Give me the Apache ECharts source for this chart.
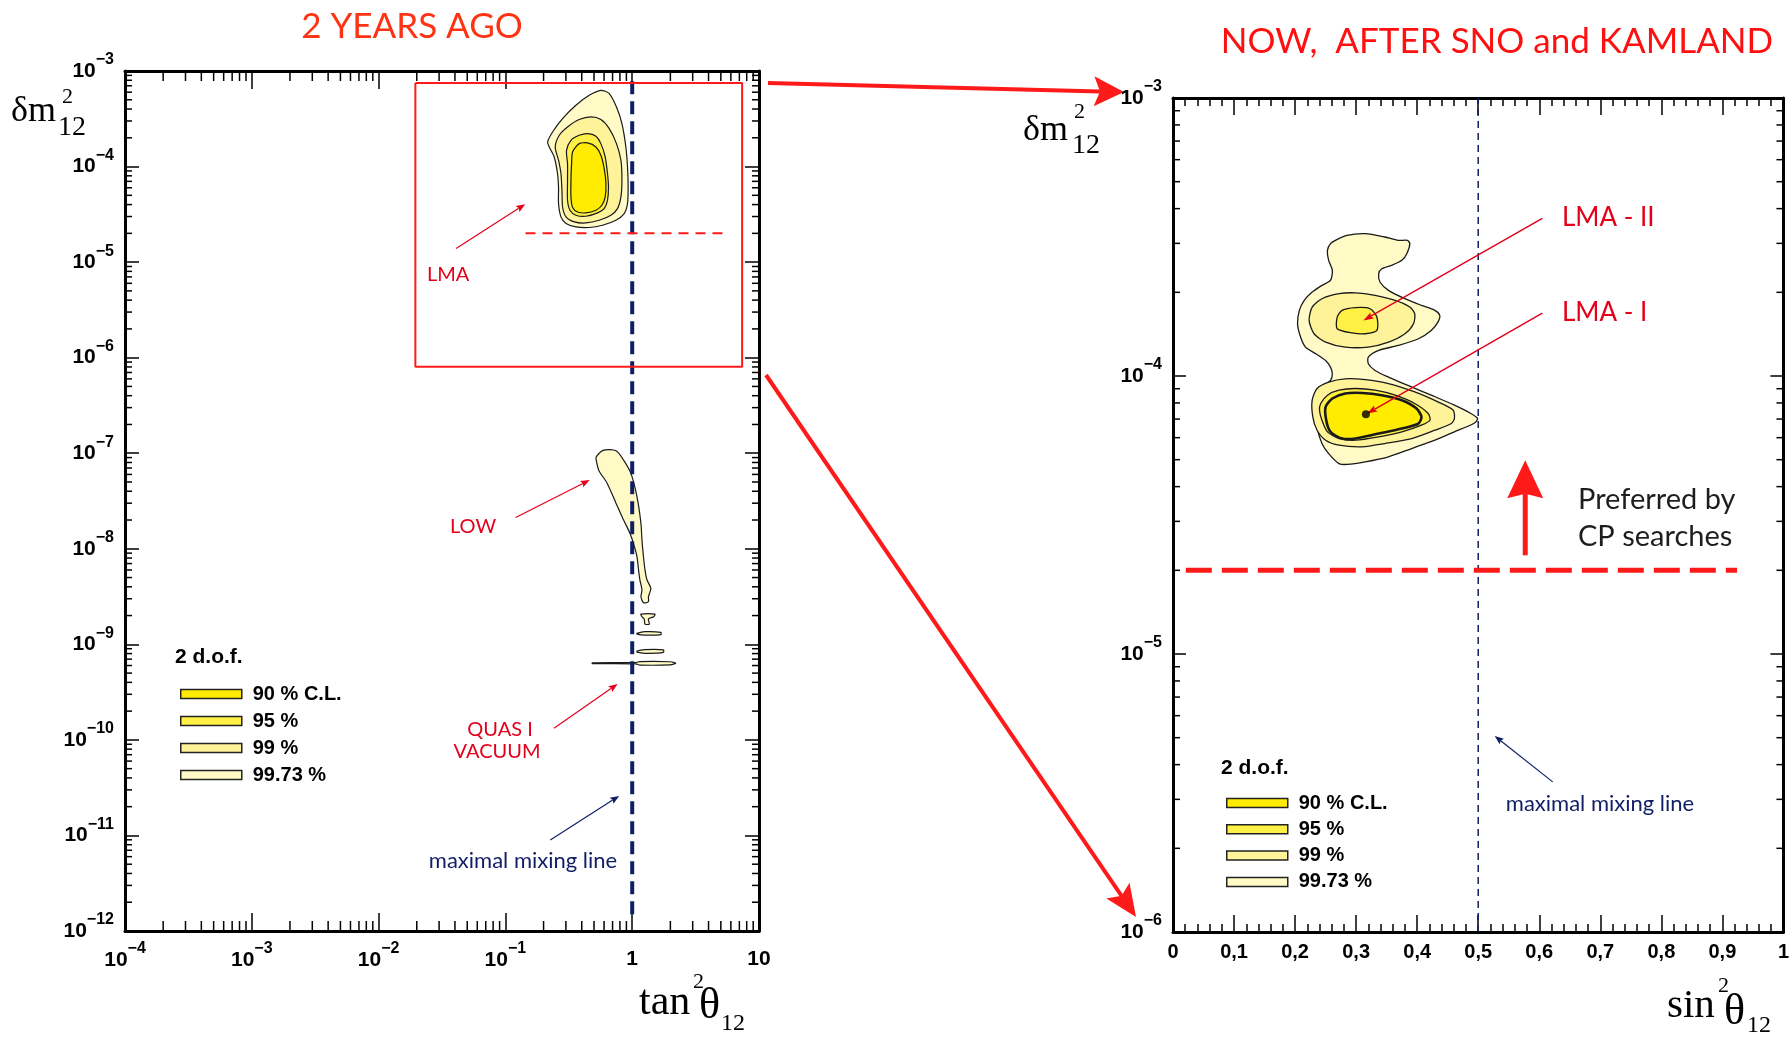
<!DOCTYPE html>
<html>
<head>
<meta charset="utf-8">
<script src="https://cdn.jsdelivr.net/npm/echarts@6/dist/echarts.min.js"></script>
<style>
  html, body { margin: 0; padding: 0; background: #fff; }
  #chart { width: 1792px; height: 1037px; }
</style>
</head>
<body>
<div id="chart"></div>
<script>
// ---------------------------------------------------------------------------
// Solar-neutrino allowed regions, before and after SNO + KamLAND.
// Left panel points: [log10(tan^2 theta12), log10(dm^2_12)]
// Right panel points: [sin^2 theta12, log10(dm^2_12)]
// ---------------------------------------------------------------------------

const levelNames = ['90 % C.L.', '95 %', '99 %', '99.73 %'];

// --- two years ago: LMA island
const lmaOld9973 = [[-0.247,-3.202],[-0.181,-3.236],[-0.124,-3.377],[-0.081,-3.550],[-0.050,-3.795],[-0.037,-4.004],[-0.032,-4.213],[-0.037,-4.387],[-0.063,-4.492],[-0.129,-4.562],[-0.234,-4.614],[-0.339,-4.638],[-0.444,-4.632],[-0.522,-4.596],[-0.562,-4.527],[-0.581,-4.387],[-0.581,-4.213],[-0.589,-4.073],[-0.615,-3.900],[-0.654,-3.795],[-0.667,-3.743],[-0.628,-3.638],[-0.549,-3.498],[-0.444,-3.359],[-0.339,-3.254]];
const lmaOld99 = [[-0.325,-3.481],[-0.247,-3.508],[-0.181,-3.603],[-0.124,-3.760],[-0.089,-3.934],[-0.081,-4.143],[-0.089,-4.318],[-0.116,-4.440],[-0.168,-4.509],[-0.260,-4.562],[-0.365,-4.590],[-0.457,-4.579],[-0.522,-4.527],[-0.549,-4.423],[-0.554,-4.248],[-0.562,-4.073],[-0.581,-3.934],[-0.607,-3.795],[-0.575,-3.673],[-0.510,-3.586],[-0.418,-3.508]];
const lmaOld95 = [[-0.418,-3.673],[-0.352,-3.655],[-0.286,-3.683],[-0.247,-3.760],[-0.213,-3.900],[-0.195,-4.073],[-0.187,-4.213],[-0.195,-4.353],[-0.221,-4.440],[-0.273,-4.485],[-0.365,-4.520],[-0.444,-4.509],[-0.491,-4.457],[-0.510,-4.353],[-0.510,-4.143],[-0.510,-3.969],[-0.518,-3.830],[-0.483,-3.725]];
const lmaOld90 = [[-0.418,-3.760],[-0.352,-3.753],[-0.286,-3.795],[-0.247,-3.882],[-0.221,-4.021],[-0.207,-4.178],[-0.213,-4.318],[-0.239,-4.405],[-0.286,-4.457],[-0.365,-4.485],[-0.431,-4.475],[-0.470,-4.429],[-0.483,-4.318],[-0.483,-4.143],[-0.478,-3.969],[-0.470,-3.847]];

// --- two years ago: LOW tongue and quasi-vacuum slivers (99.73 % only)
const lowOld9973 = [[-0.284,-7.038],[-0.225,-6.968],[-0.127,-6.975],[-0.068,-7.072],[-0.010,-7.211],[0.038,-7.456],[0.069,-7.734],[0.077,-7.909],[0.089,-8.084],[0.101,-8.223],[0.117,-8.327],[0.147,-8.414],[0.128,-8.502],[0.128,-8.554],[0.089,-8.565],[0.069,-8.502],[0.077,-8.432],[0.061,-8.327],[0.050,-8.223],[0.038,-8.084],[0.010,-7.944],[-0.017,-7.839],[-0.068,-7.700],[-0.127,-7.525],[-0.197,-7.316],[-0.264,-7.177],[-0.284,-7.072]];
const qvIsland1 = [[0.069,-8.683],[0.179,-8.683],[0.170,-8.711],[0.128,-8.735],[0.135,-8.788],[0.101,-8.788],[0.095,-8.735],[0.077,-8.711]];
const qvIsland2 = [[0.038,-8.885],[0.100,-8.868],[0.226,-8.875],[0.226,-8.898],[0.100,-8.903],[0.038,-8.893]];
const qvIsland3 = [[0.038,-9.070],[0.100,-9.055],[0.246,-9.058],[0.246,-9.085],[0.100,-9.094],[0.038,-9.082]];
const qvStrip = [[-0.315,-9.193],[0.030,-9.190],[0.060,-9.180],[0.300,-9.182],[0.344,-9.197],[0.300,-9.214],[0.060,-9.217],[0.030,-9.205],[-0.315,-9.201]];

// --- now: LMA-I / LMA-II
const now9973 = [[0.266,-3.512],[0.285,-3.494],[0.315,-3.488],[0.347,-3.500],[0.369,-3.512],[0.384,-3.512],[0.388,-3.524],[0.383,-3.560],[0.375,-3.584],[0.358,-3.602],[0.342,-3.614],[0.337,-3.632],[0.339,-3.662],[0.353,-3.692],[0.380,-3.722],[0.407,-3.746],[0.429,-3.764],[0.437,-3.782],[0.434,-3.806],[0.423,-3.836],[0.402,-3.866],[0.369,-3.890],[0.337,-3.908],[0.320,-3.932],[0.320,-3.956],[0.331,-3.980],[0.353,-4.004],[0.385,-4.034],[0.423,-4.069],[0.461,-4.105],[0.488,-4.135],[0.499,-4.153],[0.494,-4.169],[0.461,-4.201],[0.429,-4.231],[0.391,-4.261],[0.353,-4.291],[0.315,-4.309],[0.285,-4.318],[0.272,-4.315],[0.255,-4.279],[0.244,-4.243],[0.236,-4.183],[0.234,-4.123],[0.236,-4.075],[0.244,-4.040],[0.258,-4.016],[0.261,-3.992],[0.258,-3.968],[0.250,-3.944],[0.234,-3.920],[0.217,-3.896],[0.209,-3.860],[0.204,-3.812],[0.207,-3.764],[0.215,-3.728],[0.228,-3.698],[0.244,-3.674],[0.258,-3.656],[0.261,-3.620],[0.255,-3.584],[0.253,-3.548],[0.258,-3.524]];
const now99Upper = [[0.223,-3.800],[0.228,-3.752],[0.244,-3.722],[0.272,-3.704],[0.299,-3.701],[0.331,-3.710],[0.364,-3.728],[0.388,-3.752],[0.396,-3.776],[0.394,-3.812],[0.380,-3.848],[0.353,-3.878],[0.320,-3.896],[0.282,-3.896],[0.250,-3.878],[0.231,-3.848]];
const now99Lower = [[0.228,-4.087],[0.236,-4.045],[0.255,-4.022],[0.282,-4.010],[0.315,-4.013],[0.353,-4.027],[0.396,-4.057],[0.434,-4.093],[0.459,-4.123],[0.461,-4.153],[0.456,-4.171],[0.429,-4.195],[0.391,-4.225],[0.347,-4.243],[0.310,-4.255],[0.272,-4.249],[0.250,-4.231],[0.236,-4.195],[0.229,-4.147]];
const now95Upper = [[0.269,-3.788],[0.277,-3.764],[0.299,-3.754],[0.323,-3.758],[0.334,-3.788],[0.334,-3.836],[0.315,-3.848],[0.293,-3.845],[0.269,-3.830]];
const now95Lower = [[0.242,-4.099],[0.253,-4.069],[0.272,-4.051],[0.299,-4.045],[0.331,-4.051],[0.364,-4.069],[0.396,-4.099],[0.418,-4.135],[0.421,-4.159],[0.407,-4.177],[0.375,-4.201],[0.337,-4.219],[0.299,-4.231],[0.272,-4.225],[0.253,-4.201],[0.244,-4.159],[0.240,-4.123]];
const now90Lower = [[0.250,-4.111],[0.261,-4.081],[0.282,-4.063],[0.310,-4.061],[0.342,-4.069],[0.375,-4.087],[0.399,-4.117],[0.407,-4.147],[0.402,-4.171],[0.375,-4.189],[0.337,-4.207],[0.299,-4.225],[0.277,-4.225],[0.258,-4.201],[0.251,-4.159]];
const nowBestFit = [0.316, -4.138];

// --- reference lines and pointers
const cpThreshold = 2e-5;                 // dm^2 preferred for CP searches
const oldThresholdSpan = [0.144, 5.8];    // tan^2 range of the dashed line
const nowThresholdSpan = [0.021, 0.924];  // sin^2 range of the dashed line
const zoomBoxCorners = [[-1.71, -3.126], [0.867, -6.096]];
const pointerLMA = [[-1.389,-4.858],[-0.844,-4.394]];
const pointerLOW = [[-0.919,-7.672],[-0.335,-7.281]];
const pointerQV = [[-0.617,-9.879],[-0.115,-9.415]];
const pointerMixOld = [[-0.646,-11.047],[-0.103,-10.587]];
const pointerLMA2 = [[0.605,-3.433],[0.312,-3.800]];
const pointerLMA1 = [[0.605,-3.774],[0.318,-4.135]];
const pointerMixNow = [[0.622,-5.460],[0.527,-5.295]];
const cpArrow = [[0.577,-4.645],[0.577,-4.303]];

// ---------------------------------------------------------------------------
const p10 = e => Math.pow(10, e);
const toOld = pts => pts.map(p => [p10(p[0]), p10(p[1])]);
const toNow = pts => pts.map(p => [p[0], p10(p[1])]);

const C90 = '#ffec00', C95 = '#fff046', C99 = '#fff39a', C9973 = '#fffac6';
const RED = '#ff1a1a', CRIMSON = '#e4001b', NAVY = '#101e66';
const FONT_TICK = '"Liberation Sans", Arial, sans-serif';
const FONT_NOTE = 'Lato, "Open Sans", sans-serif';
const FONT_MATH = '"Liberation Serif", "DejaVu Serif", serif';

// filled contour polygons, one custom series per confidence level
function contourSeries(name, polys, gi, fill, lineWidth) {
  return {
    type: 'custom', name, xAxisIndex: gi, yAxisIndex: gi, silent: true,
    itemStyle: { color: fill, borderColor: '#1a1a1a', borderWidth: 1.2 },
    data: polys.map((p, i) => [p[0][0], p[0][1], i]),
    encode: { x: 0, y: 1 },
    renderItem(params, api) {
      const pts = polys[params.dataIndex].map(pt => api.coord(pt));
      return { type: 'polygon', shape: { points: pts, smooth: 0.25 },
               style: { fill, stroke: '#1a1a1a', lineWidth } };
    }
  };
}

// straight arrow with a notched head, in pixel space
function arrowShapes(a, b, headLen, headHalf, notch, width, color) {
  const dx = b[0] - a[0], dy = b[1] - a[1];
  const L = Math.hypot(dx, dy) || 1;
  const ux = dx / L, uy = dy / L, nx = -uy, ny = ux;
  const bx = b[0] - ux * headLen, by = b[1] - uy * headLen;
  const kx = b[0] - ux * headLen * (1 - notch), ky = b[1] - uy * headLen * (1 - notch);
  return [
    { type: 'line', shape: { x1: a[0], y1: a[1], x2: kx, y2: ky },
      style: { stroke: color, lineWidth: width } },
    { type: 'polygon',
      shape: { points: [[b[0], b[1]], [bx + nx * headHalf, by + ny * headHalf], [kx, ky], [bx - nx * headHalf, by - ny * headHalf]] },
      style: { fill: color } }
  ];
}

function pointerSeries(gi, segs, color, width, headLen, headHalf, notch) {
  return {
    type: 'custom', xAxisIndex: gi, yAxisIndex: gi, silent: true, z: 8,
    data: segs.map(s => [s[0][0], s[0][1], s[1][0], s[1][1]]),
    encode: { x: [0, 2], y: [1, 3] },
    renderItem(params, api) {
      const a = api.coord([api.value(0), api.value(1)]);
      const b = api.coord([api.value(2), api.value(3)]);
      return { type: 'group', children: arrowShapes(a, b, headLen, headHalf, notch, width, color) };
    }
  };
}

// minor ticks (2..9 per decade) on the log axes, drawn on both facing sides
const decadeMultipliers = [2, 3, 4, 5, 6, 7, 8, 9];
function minorLogTicks(e0, e1) {
  const out = [];
  for (let e = e0; e < e1; e++) for (const m of decadeMultipliers) out.push(m * Math.pow(10, e));
  return out;
}
function minorTickSeries(gi, axis, values, other, len) {
  return {
    type: 'custom', xAxisIndex: gi, yAxisIndex: gi, silent: true, z: 5,
    data: values.map(v => axis === 'x' ? [v, other[0]] : [other[0], v]),
    encode: { x: 0, y: 1 },
    renderItem(params, api) {
      const st = { stroke: '#000', lineWidth: 1.5 };
      if (axis === 'x') {
        const v = api.value(0);
        const a = api.coord([v, other[0]]), b = api.coord([v, other[1]]);
        return { type: 'group', children: [
          { type: 'line', shape: { x1: a[0], y1: a[1], x2: a[0], y2: a[1] - len }, style: st },
          { type: 'line', shape: { x1: b[0], y1: b[1], x2: b[0], y2: b[1] + len }, style: st } ] };
      }
      const v = api.value(1);
      const a = api.coord([other[0], v]), b = api.coord([other[1], v]);
      return { type: 'group', children: [
        { type: 'line', shape: { x1: a[0], y1: a[1], x2: a[0] + len, y2: a[1] }, style: st },
        { type: 'line', shape: { x1: b[0], y1: b[1], x2: b[0] - len, y2: b[1] }, style: st } ] };
    }
  };
}

// tick labels
const tickRich = {
  n: { fontFamily: FONT_TICK, fontWeight: 'bold', fontSize: 21, color: '#000' },
  s: { fontFamily: FONT_TICK, fontWeight: 'bold', fontSize: 16, color: '#000', padding: [0, 0, 22, 0] },
  p: { fontFamily: FONT_TICK, fontWeight: 'bold', fontSize: 21, color: '#000', padding: [8, 0, 0, 0] }
};
function decadeLabel(v) {
  const e = Math.round(Math.log10(v));
  if (e === 0) return '{p|1}';
  if (e === 1) return '{p|10}';
  return '{n|10}{s|\u2212' + Math.abs(e) + '}';
}
function commaLabel(v) {
  if (Math.abs(v) < 1e-9) return '0';
  if (Math.abs(v - 1) < 1e-9) return '1';
  return v.toFixed(1).replace('.', ',');
}

const frame = { show: true, onZero: false, lineStyle: { color: '#000', width: 3 } };
function logAxis(gi, position, min, max, showLabel, tickLen, margin) {
  return {
    gridIndex: gi, type: 'log', logBase: 10, min, max, position, splitNumber: 10,
    axisLine: frame,
    axisTick: { show: true, inside: true, length: tickLen, lineStyle: { color: '#000', width: 1.5 } },
    axisLabel: { show: showLabel, interval: 0, margin, formatter: decadeLabel, rich: tickRich },
    splitLine: { show: false }, minorTick: { show: false }
  };
}
function linAxis(gi, position, showLabel) {
  return {
    gridIndex: gi, type: 'value', min: 0, max: 1, interval: 0.1, position,
    axisLine: frame,
    axisTick: { show: true, inside: true, length: 17, lineStyle: { color: '#000', width: 1.5 } },
    minorTick: { show: true, splitNumber: 5, length: 8, lineStyle: { color: '#000', width: 1.5 } },
    axisLabel: { show: showLabel, margin: 10, formatter: commaLabel,
                 fontFamily: FONT_TICK, fontWeight: 'bold', fontSize: 20, color: '#000' },
    splitLine: { show: false }
  };
}

function note(text, x, y, size, color, family, align, weight) {
  return { type: 'text', x, y, z: 20, silent: true,
           style: { text, fontSize: size, fontFamily: family, fontWeight: weight || 'normal',
                    fill: color, align: align || 'left', verticalAlign: 'middle' } };
}

const legendBase = {
  data: levelNames, orient: 'vertical', icon: 'rect', itemWidth: 61, itemHeight: 9,
  selectedMode: false, padding: 0,
  itemStyle: { borderColor: '#222', borderWidth: 1.5 },
  textStyle: { fontFamily: FONT_TICK, fontWeight: 'bold', fontSize: 20, lineHeight: 20,
               color: '#000', padding: [0, 0, 0, 6] }
};

const oldBox = toOld([[zoomBoxCorners[0][0], zoomBoxCorners[0][1]], [zoomBoxCorners[1][0], zoomBoxCorners[0][1]],
                      [zoomBoxCorners[1][0], zoomBoxCorners[1][1]], [zoomBoxCorners[0][0], zoomBoxCorners[1][1]],
                      [zoomBoxCorners[0][0], zoomBoxCorners[0][1]]]);

const option = {
  animation: false,
  backgroundColor: '#fff',
  grid: [
    { left: 125, top: 71, width: 634, height: 860 },
    { left: 1173, top: 98, width: 615, height: 834 }
  ],
  xAxis: [
    logAxis(0, 'bottom', 1e-4, 10, true, 18, 10),
    logAxis(0, 'top', 1e-4, 10, false, 18, 10),
    linAxis(1, 'bottom', true),
    linAxis(1, 'top', false)
  ],
  yAxis: [
    logAxis(0, 'left', 1e-12, 1e-3, true, 14, 11),
    logAxis(0, 'right', 1e-12, 1e-3, false, 14, 11),
    logAxis(1, 'left', 1e-6, 1e-3, true, 13, 11),
    logAxis(1, 'right', 1e-6, 1e-3, false, 13, 11)
  ],
  legend: [
    Object.assign({}, legendBase, { left: 180, top: 684, itemGap: 7 }),
    Object.assign({}, legendBase, { left: 1226, top: 793, itemGap: 6.3 })
  ],
  series: [
    // two years ago
    contourSeries('99.73 %', [toOld(lmaOld9973), toOld(lowOld9973), toOld(qvIsland1), toOld(qvIsland2), toOld(qvIsland3), toOld(qvStrip)], 0, C9973, 1.2),
    contourSeries('99 %', [toOld(lmaOld99)], 0, C99, 1.2),
    contourSeries('95 %', [toOld(lmaOld95)], 0, C95, 1.2),
    contourSeries('90 % C.L.', [toOld(lmaOld90)], 0, C90, 1.2),
    // now
    contourSeries('99.73 %', [toNow(now9973)], 2, C9973, 1.3),
    contourSeries('99 %', [toNow(now99Upper), toNow(now99Lower)], 2, C99, 1.3),
    contourSeries('95 %', [toNow(now95Upper), toNow(now95Lower)], 2, C95, 1.3),
    contourSeries('90 % C.L.', [toNow(now90Lower)], 2, C90, 2.6),
    { type: 'scatter', xAxisIndex: 2, yAxisIndex: 2, silent: true, z: 9,
      data: [[nowBestFit[0], p10(nowBestFit[1])]], symbolSize: 8, itemStyle: { color: '#000' } },

    // maximal mixing lines
    { type: 'line', xAxisIndex: 0, yAxisIndex: 0, silent: true, symbol: 'none', z: 6,
      data: [[1, 1.5e-12], [1, 8.8e-4]], lineStyle: { color: NAVY, width: 4, type: [13, 7] } },
    { type: 'line', xAxisIndex: 2, yAxisIndex: 2, silent: true, symbol: 'none', z: 6,
      data: [[0.5, 1e-6], [0.5, 1e-3]], lineStyle: { color: NAVY, width: 1.5, type: [7, 5] } },
    // CP-search threshold
    { type: 'line', xAxisIndex: 0, yAxisIndex: 0, silent: true, symbol: 'none', z: 6,
      data: [[oldThresholdSpan[0], cpThreshold], [oldThresholdSpan[1], cpThreshold]],
      lineStyle: { color: RED, width: 2, type: [10, 7] } },
    { type: 'line', xAxisIndex: 2, yAxisIndex: 2, silent: true, symbol: 'none', z: 6,
      data: [[nowThresholdSpan[0], cpThreshold], [nowThresholdSpan[1], cpThreshold]],
      lineStyle: { color: RED, width: 5, type: [26, 10] } },
    // zoom box around LMA
    { type: 'line', xAxisIndex: 0, yAxisIndex: 0, silent: true, symbol: 'none', z: 6,
      data: oldBox, lineStyle: { color: RED, width: 2 } },

    // pointers
    pointerSeries(0, [pointerLMA, pointerLOW, pointerQV].map(toOld), CRIMSON, 1.2, 9, 3.5, 0.15),
    pointerSeries(0, [toOld(pointerMixOld)], NAVY, 1.2, 9, 3.5, 0.15),
    pointerSeries(2, [pointerLMA2, pointerLMA1].map(toNow), CRIMSON, 1.4, 10, 3.5, 0.15),
    pointerSeries(2, [toNow(pointerMixNow)], NAVY, 1.2, 9, 3.5, 0.15),
    pointerSeries(2, [toNow(cpArrow)], RED, 5, 38, 18, 0.12),

    // minor ticks
    minorTickSeries(0, 'x', minorLogTicks(-4, 1), [1e-12, 1e-3], 10),
    minorTickSeries(0, 'y', minorLogTicks(-12, -3), [1e-4, 10], 7),
    minorTickSeries(2, 'y', minorLogTicks(-6, -3), [0, 1], 7)
  ],
  graphic: [
    note('2 YEARS AGO', 412, 27, 35, '#ff3314', FONT_NOTE, 'center'),
    note('NOW,  AFTER SNO and KAMLAND', 1497, 42, 35, '#ff1010', FONT_NOTE, 'center'),

    note('\u03b4m', 11, 112, 36, '#000', FONT_MATH),
    note('2', 62, 97, 22, '#000', FONT_MATH),
    note('12', 58, 128, 28, '#000', FONT_MATH),
    note('\u03b4m', 1023, 131, 36, '#000', FONT_MATH),
    note('2', 1074, 112, 22, '#000', FONT_MATH),
    note('12', 1072, 146, 28, '#000', FONT_MATH),

    note('tan', 639, 1003, 42, '#000', FONT_MATH),
    note('2', 693, 982, 22, '#000', FONT_MATH),
    note('\u03b8', 699, 1006, 44, '#000', FONT_MATH),
    note('12', 721, 1024, 24, '#000', FONT_MATH),
    note('sin', 1667, 1006, 41, '#000', FONT_MATH),
    note('2', 1718, 986, 22, '#000', FONT_MATH),
    note('\u03b8', 1724, 1012, 44, '#000', FONT_MATH),
    note('12', 1747, 1026, 24, '#000', FONT_MATH),

    note('LMA', 427, 275, 20, CRIMSON, FONT_NOTE),
    note('LOW', 450, 527, 20, CRIMSON, FONT_NOTE),
    note('QUAS I', 500, 730, 20, CRIMSON, FONT_NOTE, 'center'),
    note('VACUUM', 497, 752, 20, CRIMSON, FONT_NOTE, 'center'),
    note('maximal mixing line', 523, 861, 22, NAVY, FONT_NOTE, 'center'),
    note('maximal mixing line', 1600, 804, 22, NAVY, FONT_NOTE, 'center'),
    note('LMA - II', 1562, 218, 26, CRIMSON, FONT_NOTE),
    note('LMA - I', 1562, 313, 26, CRIMSON, FONT_NOTE),
    note('Preferred by', 1578, 500, 29, '#1e1e1e', FONT_NOTE),
    note('CP searches', 1578, 537, 29, '#1e1e1e', FONT_NOTE),
    note('2 d.o.f.', 175, 657, 21, '#000', FONT_TICK, 'left', 'bold'),
    note('2 d.o.f.', 1221, 768, 21, '#000', FONT_TICK, 'left', 'bold'),

    // arrows linking the two panels
    { type: 'group', z: 15, silent: true, children: arrowShapes([768, 83], [1124, 92], 30, 15, 0.2, 4, RED) },
    { type: 'group', z: 15, silent: true, children: arrowShapes([766, 375], [1136, 917], 32, 14, 0.2, 4, RED) }
  ]
};

const chart = echarts.init(document.getElementById('chart'), null, { renderer: 'canvas' });
chart.setOption(option);
</script>
</body>
</html>
